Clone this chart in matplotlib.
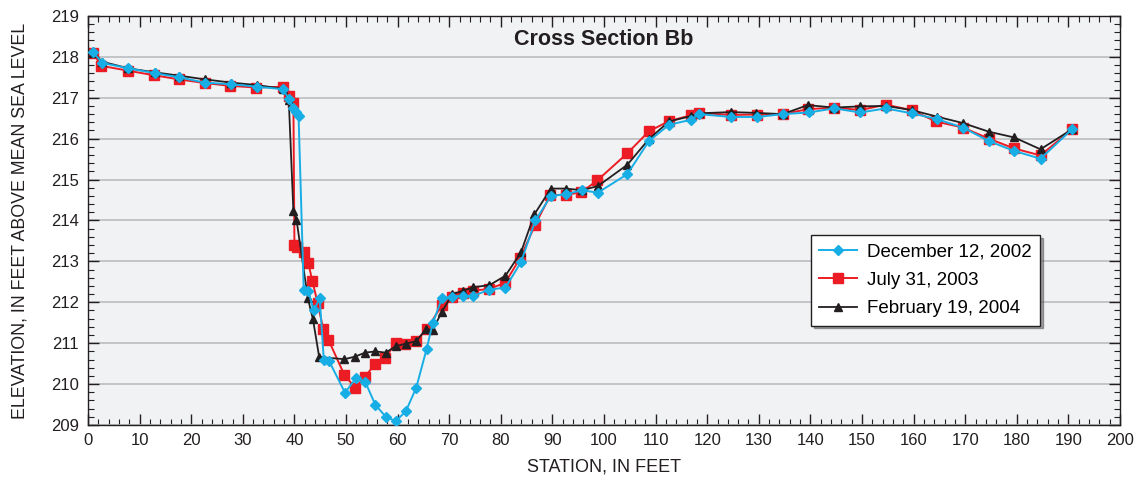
import matplotlib
matplotlib.use("Agg")
import matplotlib.pyplot as plt
from matplotlib.ticker import MultipleLocator

plt.rcParams['font.family'] = ['Liberation Sans', 'DejaVu Sans']

# December 12, 2002
dec_x = [0.9, 2.8, 7.8, 13.0, 17.7, 22.6, 27.8, 32.7, 37.8, 38.9, 39.8, 40.3, 40.8,
         41.8, 42.7, 43.7, 44.9, 45.7, 46.7, 49.8, 51.9, 53.7, 55.7, 57.8, 59.7,
         61.6, 63.6, 65.6, 66.8, 68.6, 70.5, 72.6, 74.6, 77.7, 80.9, 83.9, 86.7,
         89.7, 92.6, 95.7, 98.8, 104.5, 108.7, 112.6, 116.8, 118.5, 124.6, 129.7,
         134.6, 139.7, 144.6, 149.7, 154.6, 159.6, 164.5, 169.6, 174.6, 179.5,
         184.6, 190.7]
dec_y = [218.12, 217.85, 217.72, 217.60, 217.50, 217.37, 217.33, 217.27, 217.21,
         216.97, 216.74, 216.64, 216.56, 212.31, 212.28, 211.80, 212.10, 210.58,
         210.57, 209.79, 210.14, 210.06, 209.49, 209.19, 209.10, 209.34, 209.91,
         210.85, 211.49, 212.10, 212.14, 212.16, 212.15, 212.31, 212.36, 212.98,
         214.00, 214.60, 214.64, 214.74, 214.68, 215.13, 215.94, 216.34, 216.46,
         216.60, 216.53, 216.53, 216.60, 216.64, 216.74, 216.64, 216.74, 216.62,
         216.48, 216.27, 215.94, 215.70, 215.51, 216.23]

# July 31, 2003
jul_x = [0.9, 2.6, 7.8, 12.8, 17.6, 22.6, 27.6, 32.6, 37.8, 38.9, 39.8, 40.0,
         40.5, 41.8, 42.7, 43.5, 44.5, 45.6, 46.6, 49.7, 51.8, 53.6, 55.7, 57.6,
         59.7, 61.5, 63.6, 65.7, 68.6, 70.5, 72.6, 74.6, 77.7, 80.8, 83.8, 86.6,
         89.6, 92.6, 95.6, 98.7, 104.5, 108.7, 112.6, 116.8, 118.5, 124.6, 129.6,
         134.6, 139.5, 144.6, 149.7, 154.6, 159.6, 164.3, 169.6, 174.6, 179.5,
         184.6, 190.7]
jul_y = [218.10, 217.78, 217.66, 217.55, 217.45, 217.36, 217.29, 217.25, 217.27,
         217.05, 216.88, 213.41, 213.36, 213.22, 212.95, 212.51, 211.98, 211.34,
         211.08, 210.22, 209.91, 210.17, 210.50, 210.65, 211.01, 210.99, 211.06,
         211.35, 211.93, 212.14, 212.23, 212.28, 212.33, 212.47, 213.09, 213.88,
         214.62, 214.63, 214.69, 214.98, 215.64, 216.18, 216.43, 216.57, 216.63,
         216.58, 216.59, 216.60, 216.72, 216.76, 216.70, 216.83, 216.70, 216.42,
         216.27, 216.00, 215.76, 215.59, 216.23]

# February 19, 2004
feb_x = [0.9, 2.8, 7.8, 13.0, 17.7, 22.6, 27.8, 32.7, 37.8, 38.9, 39.8, 40.4,
         42.6, 43.6, 44.8, 49.7, 51.7, 53.7, 55.7, 57.7, 59.7, 61.6, 63.6, 65.5,
         66.8, 68.6, 70.6, 72.6, 74.7, 77.8, 80.9, 83.9, 86.5, 89.7, 92.6, 95.7,
         98.8, 104.5, 108.7, 112.6, 116.8, 118.5, 124.6, 129.5, 134.6, 139.5,
         144.6, 149.7, 154.6, 159.6, 164.5, 169.6, 174.6, 179.5, 184.6, 190.7]
feb_y = [218.10, 217.88, 217.72, 217.62, 217.54, 217.45, 217.37, 217.31, 217.22,
         216.95, 214.23, 214.02, 212.10, 211.58, 210.66, 210.61, 210.67, 210.77,
         210.80, 210.77, 210.93, 210.99, 211.05, 211.34, 211.33, 211.77, 212.20,
         212.28, 212.37, 212.42, 212.65, 213.22, 214.15, 214.78, 214.78, 214.74,
         214.84, 215.36, 215.99, 216.42, 216.55, 216.62, 216.65, 216.63, 216.60,
         216.82, 216.76, 216.79, 216.80, 216.70, 216.54, 216.38, 216.17, 216.03,
         215.74, 216.23]

labels = ["December 12, 2002", "July 31, 2003", "February 19, 2004"]
title = "Cross Section Bb"
xlabel = "STATION, IN FEET"
ylabel = "ELEVATION, IN FEET ABOVE MEAN SEA LEVEL"

fig = plt.figure(figsize=(11.39, 4.83), dpi=100)
ax = fig.add_axes([0.0773, 0.12, 0.906, 0.847])
ax.set_facecolor('#f1f2f4')

ax.plot(dec_x, dec_y, color='#17aee6', lw=1.4, marker='D', ms=5.5,
        mec='#17aee6', mfc='#17aee6', label=labels[0], zorder=3)
ax.plot(jul_x, jul_y, color='#ec1c24', lw=1.4, marker='s', ms=7.0,
        mec='#ec1c24', mfc='#ec1c24', label=labels[1], zorder=2)
ax.plot(feb_x, feb_y, color='#231f20', lw=1.3, marker='^', ms=6,
        mec='#231f20', mfc='#231f20', label=labels[2], zorder=2.5)

ax.set_xlim(0, 200)
ax.set_ylim(209, 219)
ax.xaxis.set_major_locator(MultipleLocator(10))
ax.xaxis.set_minor_locator(MultipleLocator(2))
ax.yaxis.set_major_locator(MultipleLocator(1))
ax.yaxis.set_minor_locator(MultipleLocator(0.2))
ax.tick_params(which='both', direction='in', top=True, right=True,
               colors='#231f20', labelsize=12)
ax.tick_params(which='major', length=8, width=1)
ax.tick_params(which='minor', length=4.5, width=0.8)
ax.tick_params(axis='x', pad=6)
ax.tick_params(axis='y', pad=6.5)
ax.grid(axis='y', which='major', color='#bcbdc0', lw=1.2, zorder=0)
ax.set_axisbelow(True)
for s in ax.spines.values():
    s.set_color('#231f20')
    s.set_linewidth(1.0)

ax.set_xlabel(xlabel, fontsize=13, labelpad=7, color='#231f20')
ax.set_ylabel(ylabel, fontsize=12.8, color='#231f20')
ax.yaxis.set_label_coords(-0.058, 0.5)
ax.text(0.5, 0.968, title, transform=ax.transAxes, ha='center', va='top',
        fontsize=15.5, fontweight='bold', color='#231f20')

leg = ax.legend(loc='upper left', bbox_to_anchor=(0.7005, 0.465), fontsize=13.5,
                frameon=True, fancybox=False, shadow=True, borderpad=0.45,
                labelspacing=0.6, handlelength=2.0, handletextpad=0.55,
                borderaxespad=0)
leg.get_frame().set_edgecolor('#231f20')
leg.get_frame().set_linewidth(1.0)
leg.get_frame().set_facecolor('white')

fig.savefig('out.png', dpi=100)
